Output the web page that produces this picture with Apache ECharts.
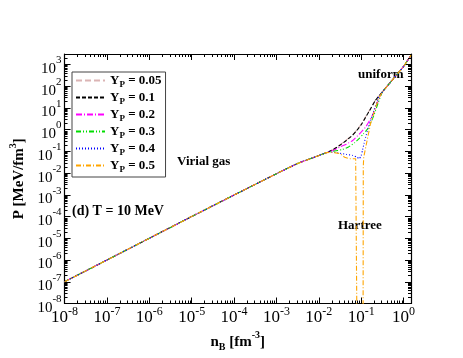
<!DOCTYPE html>
<html>
<head>
<meta charset="utf-8">
<script src="https://cdn.jsdelivr.net/npm/echarts@6/dist/echarts.min.js"></script>
<style>
  html, body { margin: 0; padding: 0; background: #fff; }
  #chart { width: 463px; height: 358px; }
</style>
</head>
<body>
<div id="chart"></div>
<script>
// all values are log10 of n_B [fm^-3] and P [MeV/fm^3]
var seriesNames = ['0.05', '0.1', '0.2', '0.3', '0.4', '0.5'];
var seriesColors = ['#dbb4b4', '#000000', '#ff00ff', '#00dd00', '#0000ff', '#ffa500'];

// virial gas part, common to all Y_P
var lowLogN = [-8, -7, -6, -5, -4, -3, -2.5, -2.12, -1.82];
var lowLogP = [-7, -6, -5, -4, -3.01, -2.03, -1.56, -1.28, -1.06];
// uniform matter part, common to all Y_P
var highLogN = [-0.3, -0.1, 0, 0.176];
var highLogP = [2.2, 2.67, 2.9, 3.42];

var midLogN005 = [-1.66, -1.5, -1.35, -1.2, -1.1, -1.0, -0.9, -0.8, -0.665, -0.5];
var midLogP005 = [-0.91, -0.70, -0.48, -0.23, -0.01, 0.24, 0.57, 0.90, 1.35, 1.73];
var midLogN01 = [-1.66, -1.5, -1.35, -1.2, -1.1, -1.0, -0.9, -0.8, -0.665, -0.5];
var midLogP01 = [-0.92, -0.72, -0.50, -0.25, -0.03, 0.22, 0.55, 0.88, 1.34, 1.73];
var midLogN02 = [-1.66, -1.5, -1.35, -1.2, -1.05, -0.9, -0.8, -0.7, -0.6, -0.5];
var midLogP02 = [-0.96, -0.80, -0.67, -0.50, -0.22, 0.10, 0.42, 0.80, 1.30, 1.73];
var midLogN03 = [-1.66, -1.45, -1.3, -1.15, -1.05, -0.95, -0.85, -0.8, -0.7, -0.6, -0.5];
var midLogP03 = [-1.0, -0.92, -0.80, -0.60, -0.42, -0.2, 0.02, 0.2, 0.65, 1.22, 1.73];
var midLogN04 = [-1.66, -1.5, -1.35, -1.2, -1.1, -1.046, -1.0, -0.97, -0.93, -0.894, -0.84, -0.78, -0.7, -0.6, -0.5];
var midLogP04 = [-1.04, -1.09, -1.14, -1.19, -1.27, -1.34, -1.2, -0.96, -0.62, -0.35, 0.05, 0.42, 0.88, 1.42, 1.73];
// Y_P = 0.5 : pressure drops off the bottom (Hartree), gap where it is negative
var midLogN05 = [-1.66, -1.5, -1.39, -1.28, -1.13, -1.10, null, -0.955, -0.95, -0.94, -0.86, -0.78, -0.70, -0.6, -0.5];
var midLogP05 = [-1.05, -1.11, -1.27, -1.34, -1.34, -9, null, -9, -1.7, -1.27, -0.50, 0.27, 0.78, 1.38, 1.73];

var midN = [midLogN005, midLogN01, midLogN02, midLogN03, midLogN04, midLogN05];
var midP = [midLogP005, midLogP01, midLogP02, midLogP03, midLogP04, midLogP05];

var xMin = -8, xMax = 0.176;   // 1e-8 .. 1.5
var yMin = -8, yMax = 3.477;   // 1e-8 .. 3000

var dashes = [[6, 3], [4, 2], [6, 2, 1, 2], [5, 2, 1, 2, 1, 2], [1, 2], [5, 2, 1, 2]];

function buildData(n, p) {
  var out = [];
  var allN = lowLogN.concat(n, highLogN);
  var allP = lowLogP.concat(p, highLogP);
  for (var i = 0; i < allN.length; i++) {
    if (allN[i] === null) {
      out.push([allN[i - 1] + 0.01, '-']);
    } else {
      out.push([allN[i], allP[i]]);
    }
  }
  return out;
}

// log minor ticks (2..9 in each decade)
var minorData = [];
for (var d = -8; d <= 3; d++) {
  for (var k = 2; k <= 9; k++) {
    var v = d + Math.log10(k);
    if (v < xMax) minorData.push([0, v]);
    if (v < yMax) minorData.push([1, v]);
  }
}

function renderMinor(params, api) {
  var cs = params.coordSys;
  var which = api.value(0);
  var v = api.value(1);
  var len = 3;
  var st = { stroke: '#000', lineWidth: 1 };
  if (which === 0) {
    var px = Math.round(api.coord([v, yMin])[0]) + 0.5;
    return { type: 'group', children: [
      { type: 'line', shape: { x1: px, y1: cs.y + cs.height, x2: px, y2: cs.y + cs.height - len }, style: st },
      { type: 'line', shape: { x1: px, y1: cs.y, x2: px, y2: cs.y + len }, style: st }
    ] };
  }
  var py = Math.round(api.coord([xMin, v])[1]) + 0.5;
  return { type: 'group', children: [
    { type: 'line', shape: { x1: cs.x, y1: py, x2: cs.x + len, y2: py }, style: st },
    { type: 'line', shape: { x1: cs.x + cs.width, y1: py, x2: cs.x + cs.width - len, y2: py }, style: st }
  ] };
}

function isWhole(v) {
  return Math.abs(v - Math.round(v)) < 1e-6;
}

var serif = 'Liberation Serif';

var xLabelRich = {
  b: { fontFamily: serif, fontSize: 17, lineHeight: 24, color: '#000' },
  s: { fontFamily: serif, fontSize: 12, lineHeight: 11, verticalAlign: 'top', color: '#000' }
};
var yLabelRich = {
  b: { fontFamily: serif, fontSize: 15, lineHeight: 28, color: '#000' },
  s: { fontFamily: serif, fontSize: 11, lineHeight: 10, verticalAlign: 'top', color: '#000' }
};

var axisLineStyle = { show: true, onZero: false, lineStyle: { color: '#000', width: 1.2 } };
var tickStyle = { show: true, inside: true, length: 6, lineStyle: { color: '#000', width: 1 } };

var series = [];
for (var i = 0; i < seriesNames.length; i++) {
  series.push({
    name: seriesNames[i],
    type: 'line',
    data: buildData(midN[i], midP[i]),
    showSymbol: false,
    symbol: 'none',
    smooth: i === 5 ? false : 0.15,
    connectNulls: false,
    clip: true,
    lineStyle: { color: seriesColors[i], width: 1.1, type: dashes[i] },
    itemStyle: { color: seriesColors[i] },
    z: 3 + i
  });
}
series.push({
  type: 'custom',
  renderItem: renderMinor,
  data: minorData,
  silent: true,
  clip: false,
  z: 10
});

var chart = echarts.init(document.getElementById('chart'));
chart.setOption({
  animation: false,
  backgroundColor: '#fff',
  grid: { left: 53.5, right: 52, top: 54, bottom: 54.5 },
  legend: {
    orient: 'vertical',
    left: 72,
    top: 72,
    data: seriesNames,
    itemWidth: 29,
    itemHeight: 13,
    itemGap: 2,
    padding: [2, 4, 3, 3],
    borderColor: '#444',
    borderWidth: 1,
    itemStyle: { opacity: 0 },
    formatter: function (name) {
      return '{b|Y}{s|P}{b| = ' + name + '}';
    },
    textStyle: {
      rich: {
        b: { fontFamily: serif, fontWeight: 'bold', fontSize: 13, lineHeight: 17, color: '#000' },
        s: { fontFamily: serif, fontWeight: 'bold', fontSize: 9, lineHeight: 9, verticalAlign: 'bottom', color: '#000' }
      }
    }
  },
  xAxis: [{
    type: 'value',
    min: xMin,
    max: xMax,
    interval: 1,
    name: '{b|n}{sub|B}{b| [fm}{sup|-3}{b|]}',
    nameLocation: 'middle',
    nameGap: 24,
    nameTextStyle: {
      rich: {
        b: { fontFamily: serif, fontWeight: 'bold', fontSize: 15, lineHeight: 22, color: '#000' },
        sub: { fontFamily: serif, fontWeight: 'bold', fontSize: 10, lineHeight: 10, verticalAlign: 'bottom', color: '#000' },
        sup: { fontFamily: serif, fontWeight: 'bold', fontSize: 10, lineHeight: 10, verticalAlign: 'top', color: '#000' }
      }
    },
    axisLine: axisLineStyle,
    axisTick: tickStyle,
    splitLine: { show: false },
    axisLabel: {
      interval: 0,
      margin: 2,
      align: 'center',
      formatter: function (v) {
        if (!isWhole(v)) return '';
        return '{b|10}{s|' + Math.round(v) + '}';
      },
      rich: xLabelRich
    }
  }, {
    type: 'value',
    position: 'top',
    min: xMin,
    max: xMax,
    interval: 1,
    axisLine: axisLineStyle,
    axisTick: tickStyle,
    axisLabel: { show: false },
    splitLine: { show: false }
  }],
  yAxis: [{
    type: 'value',
    min: yMin,
    max: yMax,
    interval: 1,
    name: '{b|P [MeV/fm}{sup|3}{b|]}',
    nameLocation: 'middle',
    nameGap: 22,
    nameRotate: 90,
    nameTextStyle: {
      rich: {
        b: { fontFamily: serif, fontWeight: 'bold', fontSize: 15, lineHeight: 22, color: '#000' },
        sup: { fontFamily: serif, fontWeight: 'bold', fontSize: 10, lineHeight: 10, verticalAlign: 'top', color: '#000' }
      }
    },
    axisLine: axisLineStyle,
    axisTick: tickStyle,
    splitLine: { show: false },
    axisLabel: {
      interval: 0,
      margin: 3,
      padding: [9, 0, 0, 0],
      formatter: function (v) {
        if (!isWhole(v)) return '';
        return '{b|10}{s|' + Math.round(v) + '}';
      },
      rich: yLabelRich
    }
  }, {
    type: 'value',
    position: 'right',
    min: yMin,
    max: yMax,
    interval: 1,
    axisLine: axisLineStyle,
    axisTick: tickStyle,
    axisLabel: { show: false },
    splitLine: { show: false }
  }],
  graphic: [
    { type: 'text', left: 177, top: 155, style: { text: 'Virial gas', font: 'bold 13px "Liberation Serif"', fill: '#000' } },
    { type: 'text', left: 72, top: 204, style: { text: '(d) T = 10 MeV', font: 'bold 14px "Liberation Serif"', fill: '#000' } },
    { type: 'text', left: 358, top: 68, style: { text: 'uniform', font: 'bold 13px "Liberation Serif"', fill: '#000' } },
    { type: 'text', left: 338, top: 219, style: { text: 'Hartree', font: 'bold 13px "Liberation Serif"', fill: '#000' } }
  ],
  series: series
});
</script>
</body>
</html>
